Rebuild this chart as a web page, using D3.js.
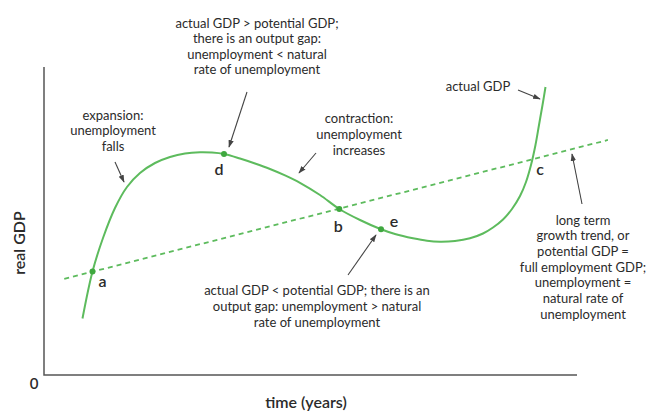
<!DOCTYPE html>
<html>
<head>
<meta charset="utf-8">
<script src="https://cdn.jsdelivr.net/npm/d3@7"></script>
<style>
  html, body { margin: 0; padding: 0; background: #fff; }
  svg text { font-family: Lato, "Open Sans", sans-serif; fill: #2b2b2b; }
</style>
</head>
<body>
<div id="chart"></div>
<script>
// actual GDP path (time, real GDP)
const actualTime = [7.22, 9.10, 11.07, 13.32, 15.57, 18.01, 20.83, 23.64, 26.45, 29.27, 31.52, 33.77, 36.77, 39.59, 42.40, 45.22, 48.03, 51.78, 55.40, 59.29, 63.23, 65.85, 69.23, 71.86, 74.30, 77.11, 79.92, 82.36, 84.24, 86.12, 87.80, 89.31, 90.43, 91.37, 92.21, 92.87, 93.53, 94.09];
const actualGdp  = [18.34, 33.60, 44.48, 54.22, 61.04, 65.58, 68.83, 70.78, 71.92, 72.31, 72.21, 71.75, 70.29, 68.67, 66.88, 64.80, 62.40, 58.44, 53.90, 50.32, 47.31, 45.78, 44.38, 43.57, 43.28, 43.51, 44.38, 45.94, 47.89, 50.49, 53.90, 58.12, 62.66, 68.18, 74.68, 81.17, 87.66, 93.51];

// potential GDP trend (start and end)
const trendTime = [3.8, 105.8];
const trendGdp  = [31.2, 76.3];

// labelled points
const pointNames = ["a", "d", "b", "e", "c"];
const pointTime  = [9.10, 33.77, 55.40, 63.23, 91.56];
const pointGdp   = [33.60, 71.75, 53.90, 47.31, 69.16];
const pointDot   = [true, true, true, true, false];

const w = 656;
const h = 412;
const green = "#5dbb5d";

const x = d3.scaleLinear().domain([0, 100]).range([44, 577]);
const y = d3.scaleLinear().domain([0, 100]).range([375, 67]);

const svg = d3.select("#chart")
  .append("svg")
  .attr("width", w)
  .attr("height", h);

svg.append("defs").append("marker")
  .attr("id", "arrow")
  .attr("viewBox", "0 0 10 10")
  .attr("refX", 9).attr("refY", 5)
  .attr("markerWidth", 7).attr("markerHeight", 7)
  .attr("orient", "auto")
  .append("path")
  .attr("d", "M0,1.5 L10,5 L0,8.5 Z")
  .attr("fill", "#444");

// axes (plain lines, no ticks)
svg.append("path")
  .attr("d", `M${x(0)},${y(100)} V${y(0)} H${x(100)}`)
  .attr("fill", "none")
  .attr("stroke", "#555")
  .attr("stroke-width", 1.5);

svg.append("text").attr("x", 34).attr("y", 389)
  .attr("text-anchor", "middle").attr("font-size", 15).attr("font-weight", 600).text("0");
svg.append("text").attr("x", 306).attr("y", 408)
  .attr("text-anchor", "middle").attr("font-size", 16).attr("font-weight", 600).text("time (years)");
svg.append("text")
  .attr("transform", "translate(25,243) rotate(-90)")
  .attr("text-anchor", "middle").attr("font-size", 16).attr("font-weight", 600).text("real GDP");

// trend line
const trend = trendTime.map((t, i) => [t, trendGdp[i]]);
svg.append("path")
  .datum(trend)
  .attr("d", d3.line().x(d => x(d[0])).y(d => y(d[1])))
  .attr("fill", "none")
  .attr("stroke", green)
  .attr("stroke-width", 1.8)
  .attr("stroke-dasharray", "5,4");

// actual GDP curve
const actual = actualTime.map((t, i) => [t, actualGdp[i]]);
svg.append("path")
  .datum(actual)
  .attr("d", d3.line().x(d => x(d[0])).y(d => y(d[1])).curve(d3.curveCatmullRom.alpha(0.5)))
  .attr("fill", "none")
  .attr("stroke", green)
  .attr("stroke-width", 2);

const points = pointNames.map((n, i) => ({ name: n, t: pointTime[i], g: pointGdp[i], dot: pointDot[i] }));
svg.selectAll(".dot")
  .data(points.filter(d => d.dot))
  .enter()
  .append("circle")
  .attr("class", "dot")
  .attr("cx", d => x(d.t))
  .attr("cy", d => y(d.g))
  .attr("r", 3)
  .attr("fill", "#3fa83f");

// letter offsets from each point
const letterOffset = { a: [10, 15], d: [-5, 21], b: [-1, 23], e: [13, -2], c: [8, 13] };
svg.selectAll(".letter")
  .data(points)
  .enter()
  .append("text")
  .attr("class", "letter")
  .attr("x", d => x(d.t) + letterOffset[d.name][0])
  .attr("y", d => y(d.g) + letterOffset[d.name][1])
  .attr("text-anchor", "middle")
  .attr("font-size", 16)
  .attr("font-weight", 600)
  .text(d => d.name);

// annotations: text block centre, first line centre, line gap, arrow from/to
const notes = [
  { lines: ["actual GDP > potential GDP;", "there is an output gap:", "unemployment < natural", "rate of unemployment"],
    cx: 257, cy: 23, gap: 15.6, arrow: [247, 92, 229, 147] },
  { lines: ["expansion:", "unemployment", "falls"],
    cx: 113, cy: 115, gap: 15.5, arrow: [115, 162, 124, 182] },
  { lines: ["contraction:", "unemployment", "increases"],
    cx: 359, cy: 118, gap: 16, arrow: [316, 153, 299, 173] },
  { lines: ["actual GDP < potential GDP; there is an", "output gap: unemployment > natural", "rate of unemployment"],
    cx: 317, cy: 290, gap: 16, arrow: [348, 275, 376, 235] },
  { lines: ["long term", "growth trend, or", "potential GDP =", "full employment GDP;", "unemployment =", "natural rate of", "unemployment"],
    cx: 583, cy: 220, gap: 15.7, arrow: [582, 204, 572, 154] },
  { lines: ["actual GDP"],
    cx: 478, cy: 86, gap: 15.6, arrow: [518, 90, 540, 99] }
];

notes.forEach(n => {
  const t = svg.append("text")
    .attr("text-anchor", "middle")
    .attr("font-size", 13);
  n.lines.forEach((l, i) => {
    t.append("tspan")
      .attr("x", n.cx)
      .attr("y", n.cy + i * n.gap + 4.5)
      .text(l);
  });
  svg.append("line")
    .attr("x1", n.arrow[0]).attr("y1", n.arrow[1])
    .attr("x2", n.arrow[2]).attr("y2", n.arrow[3])
    .attr("stroke", "#444")
    .attr("stroke-width", 1.1)
    .attr("marker-end", "url(#arrow)");
});
</script>
</body>
</html>
